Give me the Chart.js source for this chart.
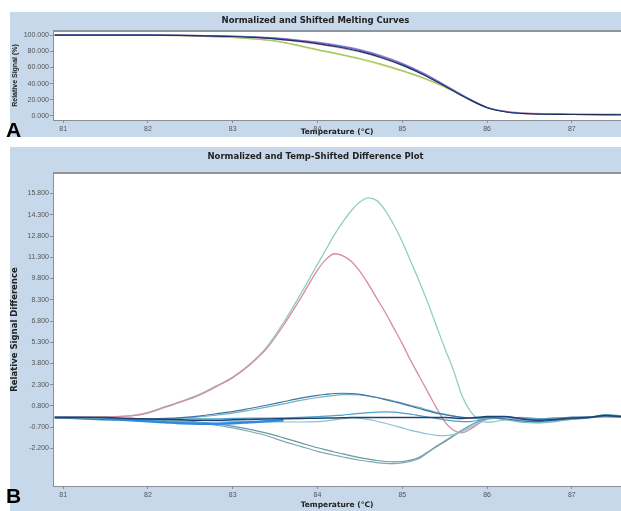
<!DOCTYPE html>
<html>
<head>
<meta charset="utf-8">
<script src="https://cdn.jsdelivr.net/npm/chart.js@4.4.1/dist/chart.umd.min.js"></script>
<style>
  body { margin: 0; background: #fff; width: 621px; height: 511px; position: relative; overflow: hidden; }
  .panel { position: absolute; left: 10px; width: 611px; background: #c6d8ea; }
  #panelA { top: 12px; height: 125px; }
  #panelB { top: 147px; height: 364px; }
  .tag { position: absolute; left: 6px; font: bold 21px/21px "Liberation Sans", Arial, sans-serif; color: #000; }
</style>
</head>
<body>
<div class="panel" id="panelA"><canvas id="meltChart"></canvas></div>
<div class="panel" id="panelB"><canvas id="diffChart"></canvas></div>
<div class="tag" style="top:119px">A</div>
<div class="tag" style="top:485px">B</div>
<script>
/* tick labels */
const xTicks = [81, 82, 83, 84, 85, 86, 87];
const meltTicks = [0, 20, 40, 60, 80, 100];
const diffTicks = [-2.2, -0.7, 0.8, 2.3, 3.8, 5.3, 6.8, 8.3, 9.8, 11.3, 12.8, 14.3, 15.8];

/* panel A: normalized melting curves (% signal) */
const tempsA = [80.9, 81.5, 82.0, 82.5, 83.0, 83.25, 83.5, 83.75, 84.0, 84.25, 84.5, 84.75, 85.0, 85.25, 85.5, 85.75, 86.0, 86.25, 86.5, 87.0, 87.6];
const meltBlue   = [100, 100, 100, 99.5, 98.5, 97.5, 96.0, 93.6, 90.5, 86.3, 81.0, 73.5, 64.0, 52.0, 37.5, 23.0, 10.5, 4.8, 2.8, 1.8, 1.5];
const meltNavy   = [100, 100, 100, 99.4, 98.2, 97.0, 95.3, 92.8, 89.5, 85.2, 79.8, 72.3, 62.8, 51.0, 37.0, 22.5, 10.2, 4.6, 2.7, 1.8, 1.5];
const meltPurple = [100, 100, 100, 99.6, 98.7, 97.8, 96.4, 94.2, 91.3, 87.2, 82.0, 74.6, 65.0, 53.0, 38.5, 23.5, 10.8, 5.0, 3.0, 2.0, 1.6];
const meltGreen  = [100, 100, 99.8, 99.0, 97.0, 95.3, 92.8, 87.8, 82.0, 76.8, 71.0, 64.0, 56.0, 47.0, 36.0, 23.0, 10.4, 4.8, 2.8, 1.8, 1.5];
const meltYellow = [100, 100, 99.8, 98.9, 96.7, 95.0, 92.3, 87.2, 81.3, 76.0, 70.2, 63.2, 55.2, 46.3, 35.5, 22.7, 10.2, 4.7, 2.7, 1.8, 1.5];
const meltPink   = [100, 100, 100, 99.4, 98.0, 96.8, 95.0, 92.2, 88.8, 84.5, 79.0, 71.8, 62.5, 51.0, 37.0, 22.8, 10.6, 5.3, 3.4, 2.5, 2.2];

/* panel B: difference curves */
const tempsB = [80.9, 81.2, 81.5, 81.8, 82.0, 82.2, 82.4, 82.6, 82.8, 83.0, 83.2, 83.4, 83.6, 83.8, 84.0, 84.1, 84.2, 84.3, 84.4, 84.5, 84.6, 84.7, 84.8, 84.9, 85.0, 85.1, 85.2, 85.3, 85.4, 85.5, 85.6, 85.7, 85.8, 85.9, 86.0, 86.2, 86.4, 86.6, 86.8, 87.0, 87.2, 87.4, 87.6];
const diffGreen = [0.02, 0.02, 0.03, 0.12, 0.35, 0.75, 1.15, 1.6, 2.2, 2.85, 3.75, 4.95, 6.7, 8.7, 10.8, 11.85, 12.9, 13.8, 14.6, 15.2, 15.5, 15.3, 14.6, 13.6, 12.4, 11.0, 9.6, 8.1, 6.5, 4.9, 3.4, 1.6, 0.45, -0.15, -0.35, -0.2, -0.1, -0.25, -0.2, -0.05, 0, 0.1, 0.05];
const diffPink = [0.02, 0.02, 0.03, 0.1, 0.3, 0.7, 1.1, 1.55, 2.15, 2.8, 3.7, 4.85, 6.5, 8.4, 10.4, 11.15, 11.55, 11.4, 11.0, 10.3, 9.4, 8.4, 7.4, 6.3, 5.2, 4.0, 2.9, 1.8, 0.7, -0.3, -0.9, -1.1, -0.85, -0.45, -0.15, -0.05, 0, -0.1, -0.1, 0, 0, 0.05, 0];
const diffBump1 = [-0.05, -0.1, -0.15, -0.15, -0.12, -0.08, -0.02, 0.08, 0.25, 0.4, 0.62, 0.85, 1.1, 1.35, 1.55, 1.62, 1.68, 1.7, 1.68, 1.62, 1.52, 1.4, 1.25, 1.1, 0.95, 0.78, 0.62, 0.45, 0.3, 0.18, 0.08, 0, -0.05, -0.05, 0, -0.1, -0.25, -0.3, -0.2, -0.1, -0.05, 0.1, 0.05];
const diffBump2 = [-0.05, -0.1, -0.2, -0.2, -0.18, -0.12, -0.05, 0.02, 0.15, 0.3, 0.5, 0.72, 0.95, 1.2, 1.4, 1.48, 1.55, 1.6, 1.6, 1.58, 1.5, 1.4, 1.28, 1.15, 1.0, 0.85, 0.7, 0.52, 0.36, 0.22, 0.1, 0.02, -0.05, -0.1, -0.05, -0.15, -0.35, -0.4, -0.3, -0.15, -0.05, 0.15, 0.05];
const diffDip1 = [-0.05, -0.1, -0.15, -0.2, -0.22, -0.25, -0.3, -0.4, -0.55, -0.75, -1.0, -1.3, -1.7, -2.05, -2.4, -2.55, -2.68, -2.8, -2.92, -3.03, -3.12, -3.2, -3.25, -3.27, -3.22, -3.1, -2.9, -2.5, -2.1, -1.75, -1.35, -0.95, -0.6, -0.3, -0.1, 0, -0.1, -0.15, -0.1, 0, 0, 0.05, 0];
const diffDip2 = [-0.05, -0.08, -0.12, -0.15, -0.18, -0.2, -0.25, -0.33, -0.45, -0.62, -0.85, -1.12, -1.45, -1.8, -2.15, -2.3, -2.45, -2.58, -2.72, -2.85, -2.95, -3.05, -3.12, -3.15, -3.12, -3.02, -2.82, -2.45, -2.05, -1.68, -1.3, -0.92, -0.58, -0.28, -0.08, 0.02, -0.05, -0.1, -0.05, 0, 0.02, 0.05, 0];
const diffMidDip = [0, -0.05, -0.1, -0.12, -0.15, -0.18, -0.2, -0.22, -0.25, -0.28, -0.3, -0.32, -0.33, -0.33, -0.3, -0.25, -0.18, -0.1, -0.05, -0.08, -0.15, -0.28, -0.42, -0.58, -0.75, -0.92, -1.05, -1.18, -1.27, -1.3, -1.22, -1.02, -0.72, -0.4, -0.12, 0, -0.2, -0.35, -0.25, -0.05, 0, 0.1, 0.05];
const diffSmall = [0, -0.02, -0.05, -0.08, -0.1, -0.1, -0.1, -0.1, -0.1, -0.08, -0.06, -0.05, -0.03, 0, 0.05, 0.08, 0.12, 0.16, 0.22, 0.28, 0.33, 0.37, 0.38, 0.36, 0.3, 0.22, 0.12, 0.02, -0.08, -0.18, -0.25, -0.3, -0.3, -0.22, -0.1, 0.05, -0.05, -0.1, -0.05, 0, 0, 0.2, 0.1];
const diffNavy = [0, 0, -0.02, -0.08, -0.12, -0.15, -0.18, -0.2, -0.2, -0.18, -0.15, -0.12, -0.1, -0.08, -0.06, -0.05, -0.04, -0.03, -0.02, -0.02, -0.02, -0.02, -0.02, -0.02, -0.02, -0.02, -0.02, -0.02, -0.02, -0.02, -0.05, -0.08, -0.05, 0, 0.05, 0.05, -0.1, -0.2, -0.15, -0.05, 0, 0.12, 0.05];
const diffBright = [null, null, -0.1, -0.2, -0.28, -0.35, -0.42, -0.45, -0.45, -0.42, -0.35, -0.28, -0.2, null, null, null, null, null, null, null, null, null, null, null, null, null, null, null, null, null, null, null, null, null, null, null, null, null, null, null, null, null, null];

function toPoints(temps, values) {
  return temps.map((t, i) => ({ x: t, y: values[i] }));
}
function line(temps, values, color, width) {
  return {
    data: toPoints(temps, values),
    borderColor: color,
    borderWidth: width || 1.2,
    pointRadius: 0,
    cubicInterpolationMode: 'monotone',
    spanGaps: false,
  };
}

const tickFont = { family: "'Liberation Sans', Arial, sans-serif", size: 7 };
const axisTitleFont = { family: "'DejaVu Sans', sans-serif", size: 7.5, weight: 'bold' };
const headFont = { family: "'DejaVu Sans', sans-serif", size: 8.5, weight: 'bold' };
const axisGray = '#8a8f96';

/* white plot area and the gray line under the title bar */
const plotFrame = {
  id: 'plotFrame',
  beforeDraw(chart) {
    const a = chart.chartArea, ctx = chart.ctx;
    ctx.save();
    ctx.fillStyle = '#ffffff';
    ctx.fillRect(a.left, a.top, a.right - a.left, a.bottom - a.top);
    ctx.restore();
  },
  afterDraw(chart) {
    const a = chart.chartArea, ctx = chart.ctx;
    ctx.save();
    ctx.strokeStyle = '#8d949c';
    ctx.lineWidth = 2;
    ctx.beginPath();
    ctx.moveTo(a.left, a.top);
    ctx.lineTo(a.right, a.top);
    ctx.stroke();
    ctx.restore();
  },
};

function xScale(height) {
  return {
    type: 'linear',
    min: 80.88,
    max: 87.58,
    afterBuildTicks: (s) => { s.ticks = xTicks.map((v) => ({ value: v })); },
    afterFit: (s) => { s.height = height; },
    ticks: { font: tickFont, color: '#555', padding: 2, maxRotation: 0, autoSkip: false },
    grid: { drawOnChartArea: false, tickLength: 3, color: axisGray },
    border: { color: axisGray },
    title: { display: true, text: 'Temperature (°C)', font: axisTitleFont, color: '#222', padding: { top: 0, bottom: height > 20 ? 1 : 0 } },
  };
}
function yScale(min, max, tickValues, titleText, titleFont) {
  return {
    min: min,
    max: max,
    afterBuildTicks: (s) => { s.ticks = tickValues.map((v) => ({ value: v })); },
    afterFit: (s) => { s.width = 43; },
    ticks: { font: tickFont, color: '#555', padding: 1, autoSkip: false, callback: (v) => v.toFixed(3) },
    grid: { drawOnChartArea: false, tickLength: 3, color: axisGray },
    border: { color: axisGray },
    title: { display: true, text: titleText, font: titleFont, color: '#222', padding: { top: titleFont.size > 8 ? 0 : 1, bottom: 0 } },
  };
}

new Chart(document.getElementById('meltChart'), {
  type: 'line',
  data: {
    datasets: [
      line(tempsA, meltNavy, '#1e2f5c', 1.2),
      line(tempsA, meltBlue, '#4a78d8', 1.2),
      line(tempsA, meltPurple, '#a77bd0', 1.2),
      line(tempsA, meltPink, '#e89cb0', 1.2),
      line(tempsA, meltGreen, '#9cc86a', 1.2),
      line(tempsA, meltYellow, '#e0d870', 1.2),
    ],
  },
  options: {
    responsive: true,
    maintainAspectRatio: false,
    animation: false,
    layout: { padding: 0 },
    scales: {
      x: xScale(17),
      y: yScale(-5, 105, meltTicks, 'Relative Signal (%)', { family: "'Liberation Sans', Arial, sans-serif", size: 7, weight: 'bold' }),
    },
    plugins: {
      legend: { display: false },
      tooltip: { enabled: false },
      title: { display: true, text: 'Normalized and Shifted Melting Curves', font: headFont, color: '#222', padding: { top: 4, bottom: 4.8 } },
    },
  },
  plugins: [plotFrame],
});

new Chart(document.getElementById('diffChart'), {
  type: 'line',
  data: {
    datasets: [
      line(tempsB, diffNavy, '#22406f', 1.5),
      line(tempsB, diffBright, '#2b8ae4', 2.5),
      line(tempsB, diffBump1, '#3f73a8', 1.2),
      line(tempsB, diffBump2, '#6fb3bf', 1.2),
      line(tempsB, diffSmall, '#4ea0c9', 1.2),
      line(tempsB, diffMidDip, '#86c3cf', 1.2),
      line(tempsB, diffDip1, '#80a9b2', 1.2),
      line(tempsB, diffDip2, '#6a97a3', 1.2),
      line(tempsB, diffPink, '#d98aa0', 1.3),
      line(tempsB, diffGreen, '#92cfbd', 1.3),
    ],
  },
  options: {
    responsive: true,
    maintainAspectRatio: false,
    animation: false,
    layout: { padding: 0 },
    scales: {
      x: xScale(25),
      y: yScale(-4.85, 17.25, diffTicks, 'Relative Signal Difference', { family: "'DejaVu Sans', sans-serif", size: 8.5, weight: 'bold' }),
    },
    plugins: {
      legend: { display: false },
      tooltip: { enabled: false },
      title: { display: true, text: 'Normalized and Temp-Shifted Difference Plot', font: headFont, color: '#222', padding: { top: 5, bottom: 10.8 } },
    },
  },
  plugins: [plotFrame],
});
</script>
</body>
</html>
